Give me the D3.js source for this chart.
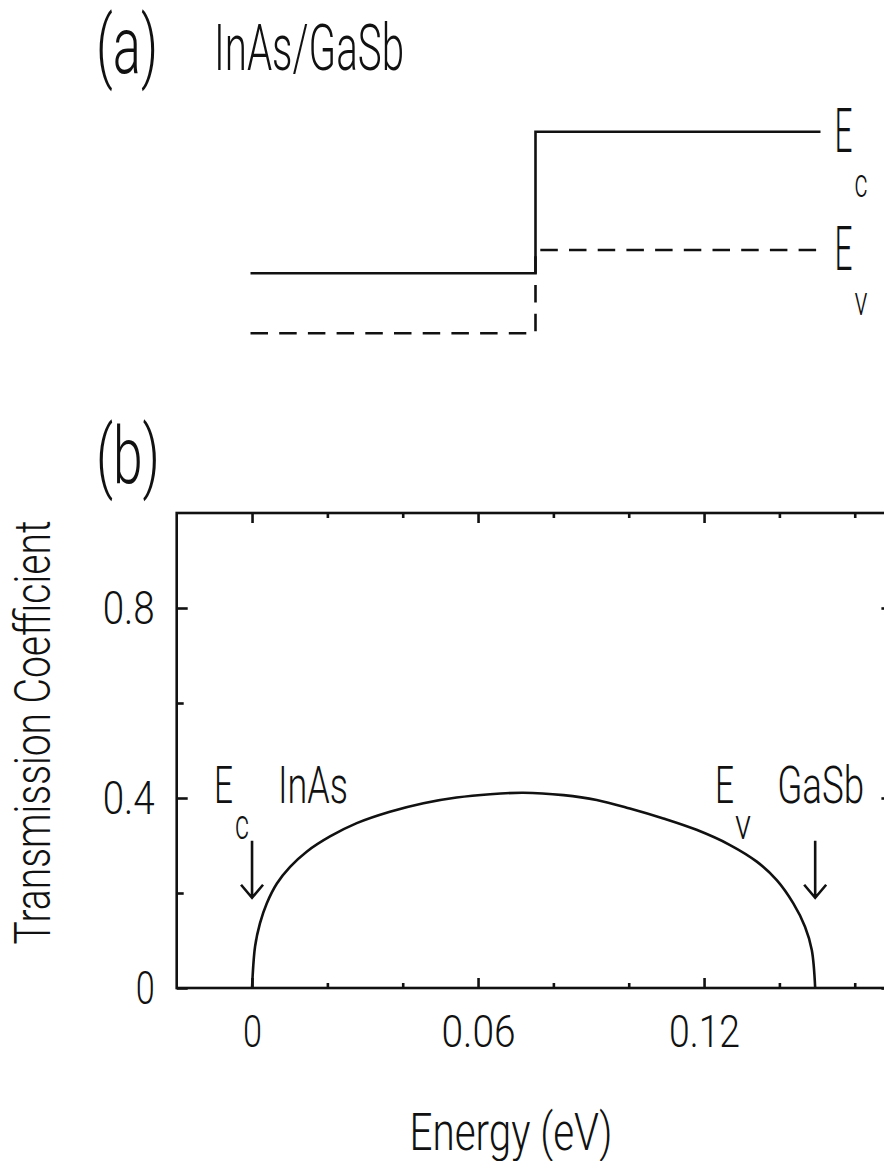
<!DOCTYPE html>
<html><head><meta charset="utf-8">
<script src="https://cdn.jsdelivr.net/npm/d3@7"></script>
<style>
body{margin:0;background:#fff}
svg{display:block;background:#fff}
text{font-family:Roboto,"Liberation Sans Narrow","DejaVu Sans Condensed",sans-serif;font-weight:300;fill:#111}
</style></head>
<body><svg id="c" width="884" height="1161"></svg>
<script>
// ---------- data ----------
// panel (a): band edges (eV), InAs on the left, GaSb on the right
const materials = ["InAs", "GaSb"];
const conductionEdge = [0, 0.85];
const valenceEdge = [-0.36, 0.14];

// panel (b): transmission coefficient vs energy
const energy = [0, 0.0008, 0.0021, 0.0039, 0.0066, 0.0101, 0.0145, 0.0207, 0.0278, 0.0366, 0.0455, 0.0543, 0.0632, 0.072, 0.0827, 0.0915, 0.1003, 0.1092, 0.118, 0.1269, 0.134, 0.1393, 0.1437, 0.1468, 0.1486, 0.1495];
const transmission = [0, 0.087, 0.136, 0.178, 0.22, 0.255, 0.287, 0.319, 0.347, 0.371, 0.389, 0.401, 0.408, 0.411, 0.406, 0.396, 0.378, 0.357, 0.333, 0.301, 0.266, 0.227, 0.178, 0.129, 0.08, 0];

const xMajorTicks = [0, 0.06, 0.12];
const xMinorTicks = [0.02, 0.04, 0.08, 0.10, 0.14, 0.16];
const yMajorTicks = [0, 0.4, 0.8];
const yMinorTicks = [0.2, 0.6];
const xTickLabels = ["0", "0.06", "0.12"];
const yTickLabels = ["0", "0.4", "0.8"];

// arrows marking the band edges (energy, from T, to T)
const arrowEnergies = [0, 0.1495];
const arrowFrom = 0.31, arrowTo = 0.19;

// ---------- drawing ----------
const svg = d3.select("#c");
const INK = "#111";
const LW = 2.6;

function label(g, x, y, str, fs, width, anchor) {
  return g.append("text").attr("x", x).attr("y", y)
    .attr("font-size", fs).attr("text-anchor", anchor || "start")
    .attr("textLength", width).attr("lengthAdjust", "spacingAndGlyphs")
    .text(str);
}

// ===== panel (a) =====
const ga = svg.append("g");
label(ga, 96, 73, "(a)", 80, 62);
label(ga, 214, 70, "InAs/GaSb", 65, 190);

const xb = d3.scaleLinear().domain([-1, 1]).range([250.5, 820.5]);
const yb = d3.scaleLinear().domain([0, 0.85]).range([273.3, 131.7]);

function bandPath(levels) {
  return [[-1, levels[0]], [0, levels[0]], [0, levels[1]], [1, levels[1]]];
}
const bl = d3.line().x(d => xb(d[0])).y(d => yb(d[1]));
ga.append("path").attr("d", bl(bandPath(conductionEdge)))
  .attr("fill", "none").attr("stroke", INK).attr("stroke-width", LW);
ga.append("path").attr("d", bl(bandPath(valenceEdge)))
  .attr("fill", "none").attr("stroke", INK).attr("stroke-width", LW)
  .attr("stroke-dasharray", "17.5,11.2");

// band labels at the right end
[[conductionEdge[1], "c"], [valenceEdge[1], "v"]].forEach(([lev, sub]) => {
  label(ga, xb(1) + 14, yb(lev) + 20, "E", 62, 18);
  label(ga, xb(1) + 34, yb(lev) + 65, sub, 40, 13);
});

// ===== panel (b) =====
const gb = svg.append("g");
label(gb, 96, 483, "(b)", 80, 64);

const x = d3.scaleLinear().domain([-0.02, 0.17]).range([176.7, 892.4]);
const y = d3.scaleLinear().domain([0, 1]).range([988, 513]);

// frame
gb.append("rect").attr("x", x(-0.02)).attr("y", y(1))
  .attr("width", x(0.17) - x(-0.02)).attr("height", y(0) - y(1))
  .attr("fill", "none").attr("stroke", INK).attr("stroke-width", LW);

function styleAxis(g) {
  g.select(".domain").remove();
  g.selectAll(".tick line").attr("stroke", INK).attr("stroke-width", LW);
}
// bottom
gb.append("g").attr("transform", `translate(0,${y(0)})`)
  .call(d3.axisBottom(x).tickValues(xMajorTicks).tickSize(-10).tickPadding(27)
    .tickFormat((d, i) => xTickLabels[i]))
  .call(styleAxis)
  .call(g => g.selectAll("text").attr("font-size", 45).attr("fill", INK)
    .attr("font-family", null)
    .attr("textLength", (d, i) => [19, 74, 71][i]).attr("lengthAdjust", "spacingAndGlyphs"));
gb.append("g").attr("transform", `translate(0,${y(0)})`)
  .call(d3.axisBottom(x).tickValues(xMinorTicks).tickSize(-5).tickFormat(""))
  .call(styleAxis);
// top
gb.append("g").attr("transform", `translate(0,${y(1)})`)
  .call(d3.axisTop(x).tickValues(xMajorTicks).tickSize(-10).tickFormat(""))
  .call(styleAxis);
gb.append("g").attr("transform", `translate(0,${y(1)})`)
  .call(d3.axisTop(x).tickValues(xMinorTicks).tickSize(-5).tickFormat(""))
  .call(styleAxis);
// left
gb.append("g").attr("transform", `translate(${x(-0.02)},0)`)
  .call(d3.axisLeft(y).tickValues(yMajorTicks).tickSize(-11).tickPadding(22)
    .tickFormat((d, i) => yTickLabels[i]))
  .call(styleAxis)
  .call(g => g.selectAll("text").attr("font-size", 47).attr("fill", INK)
    .attr("font-family", null)
    .attr("textLength", (d, i) => [19, 52, 52][i]).attr("lengthAdjust", "spacingAndGlyphs"));
gb.append("g").attr("transform", `translate(${x(-0.02)},0)`)
  .call(d3.axisLeft(y).tickValues(yMinorTicks).tickSize(-7).tickFormat(""))
  .call(styleAxis);
// right
gb.append("g").attr("transform", `translate(${x(0.17)},0)`)
  .call(d3.axisRight(y).tickValues(yMajorTicks).tickSize(-11).tickFormat(""))
  .call(styleAxis);
gb.append("g").attr("transform", `translate(${x(0.17)},0)`)
  .call(d3.axisRight(y).tickValues(yMinorTicks).tickSize(-7).tickFormat(""))
  .call(styleAxis);

// axis titles
gb.append("text").attr("transform", `translate(50,${y(0.5) - 18}) rotate(-90)`)
  .attr("font-size", 50).attr("text-anchor", "middle")
  .attr("textLength", 424).attr("lengthAdjust", "spacingAndGlyphs")
  .text("Transmission  Coefficient");
label(gb, 511, 1150, "Energy  (eV)", 51, 203, "middle");

// curve
const pts = energy.map((e, i) => [e, transmission[i]]);
gb.append("path")
  .attr("d", d3.line().x(d => x(d[0])).y(d => y(d[1])).curve(d3.curveCatmullRom.alpha(0.5))(pts))
  .attr("fill", "none").attr("stroke", INK).attr("stroke-width", LW);

// arrows
arrowEnergies.forEach(e => {
  const ax = x(e), y0 = y(arrowFrom), y1 = y(arrowTo);
  gb.append("path")
    .attr("d", `M${ax},${y0}L${ax},${y1}M${ax - 11},${y1 - 13}L${ax},${y1}L${ax + 11},${y1 - 13}`)
    .attr("fill", "none").attr("stroke", INK).attr("stroke-width", LW);
});

// annotations (data coordinates)
const annY = 0.389;
label(gb, x(-0.0101), y(annY), "E", 52, 19);
label(gb, x(-0.0101) + 21, y(annY) + 36, "c", 42, 14);
label(gb, x(0.0069), y(annY), "InAs", 52, 70);
label(gb, x(0.1229), y(annY), "E", 52, 19);
label(gb, x(0.1229) + 20, y(annY) + 36, "v", 42, 16);
label(gb, x(0.1394), y(annY), "GaSb", 52, 87);
</script></body></html>
